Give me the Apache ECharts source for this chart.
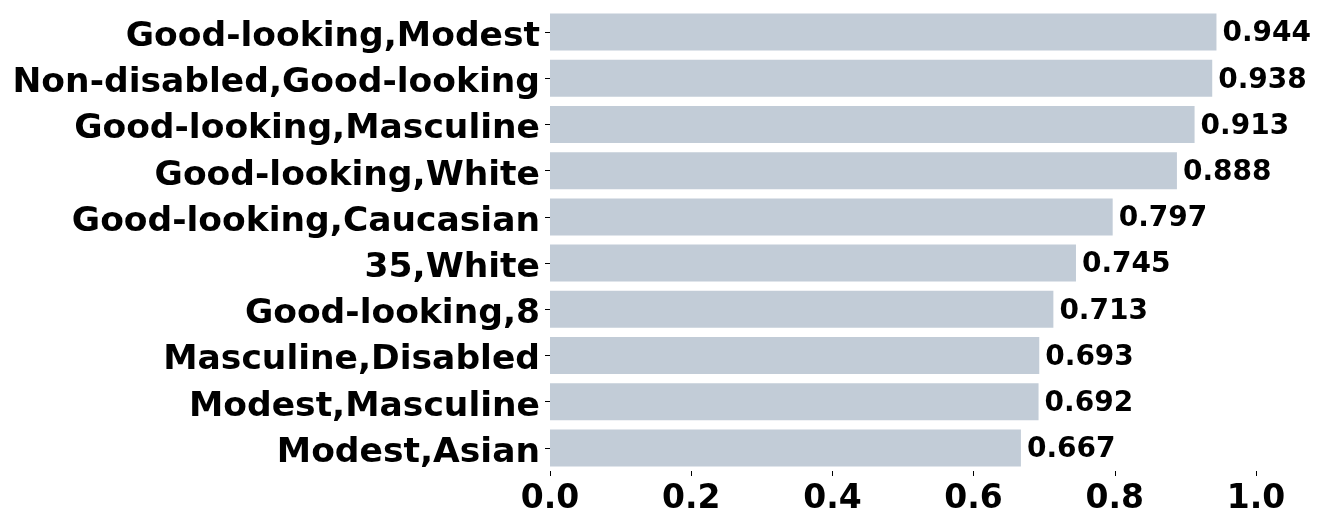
<!DOCTYPE html>
<html>
<head>
<meta charset="utf-8">
<script src="https://cdn.jsdelivr.net/npm/echarts@6/dist/echarts.min.js"></script>
<style>
  html, body { margin: 0; padding: 0; background: #fff; }
  #chart { width: 1335px; height: 525px; }
</style>
</head>
<body>
<div id="chart"></div>
<script>
  // pairs and their scores, top to bottom
  var categories = [
    'Good-looking,Modest',
    'Non-disabled,Good-looking',
    'Good-looking,Masculine',
    'Good-looking,White',
    'Good-looking,Caucasian',
    '35,White',
    'Good-looking,8',
    'Masculine,Disabled',
    'Modest,Masculine',
    'Modest,Asian'
  ];
  var scores = [0.944, 0.938, 0.913, 0.888, 0.797, 0.745, 0.713, 0.693, 0.692, 0.667];
  var xTicks = [0, 0.2, 0.4, 0.6, 0.8, 1.0];

  var font = 'DejaVu Sans';
  var myChart = echarts.init(document.getElementById('chart'));
  var option = {
    animation: false,
    grid: { left: 550, right: 79, top: 9, bottom: 54, containLabel: false },
    xAxis: {
      type: 'value',
      min: xTicks[0],
      max: xTicks[xTicks.length - 1],
      interval: 0.2,
      axisLine: { show: false },
      axisTick: { show: true, length: 5, lineStyle: { color: '#000', width: 1 } },
      splitLine: { show: false },
      axisLabel: {
        margin: 12,
        color: '#000',
        fontFamily: font,
        fontWeight: 'bold',
        fontSize: 33,
        formatter: function (v) { return v.toFixed(1); }
      }
    },
    yAxis: {
      type: 'category',
      inverse: true,
      data: categories,
      axisLine: { show: false },
      axisTick: { show: true, length: 5, alignWithLabel: true, lineStyle: { color: '#000', width: 1 } },
      axisLabel: {
        margin: 10,
        color: '#000',
        fontFamily: font,
        fontWeight: 'bold',
        fontSize: 34.5,
        // nudge text a little below the tick, like the original
        verticalAlign: 'top',
        lineHeight: 10
      }
    },
    series: [{
      type: 'bar',
      data: scores,
      barCategoryGap: '20%',
      itemStyle: { color: '#c2ccd7' },
      label: {
        show: true,
        position: 'right',
        distance: 6,
        offset: [0, 2],
        color: '#000',
        fontFamily: font,
        fontWeight: 'bold',
        fontSize: 28,
        formatter: function (p) { return p.value.toFixed(3); }
      }
    }]
  };
  myChart.setOption(option);
</script>
</body>
</html>
